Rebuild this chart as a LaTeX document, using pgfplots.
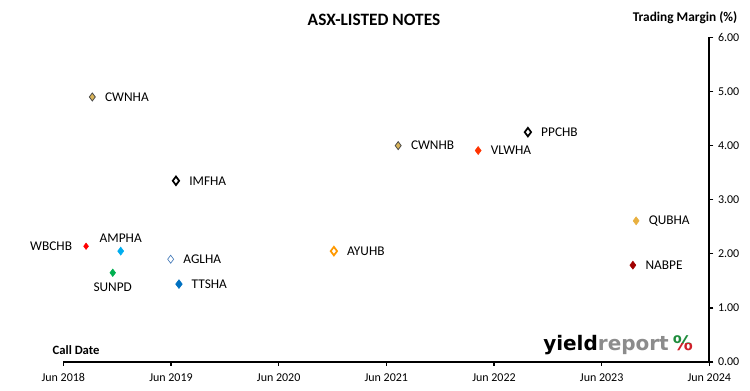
\documentclass[border=0pt]{standalone}
\usepackage{pgfplots}
\pgfplotsset{compat=1.18}
\usepackage{fontspec}
\setmainfont{Carlito}
\newfontfamily\logofont{DejaVu Sans}
\definecolor{tan1}{HTML}{D9B45A}
\definecolor{steel}{HTML}{4A7EBB}
\definecolor{tgreen}{HTML}{00B050}
\definecolor{tblue}{HTML}{0070C0}
\definecolor{aorange}{HTML}{FF9900}
\definecolor{vred}{HTML}{FF3300}
\definecolor{qgold}{HTML}{E8B040}
\definecolor{nred}{HTML}{A00000}
\definecolor{logogray}{HTML}{8C8C8C}
\definecolor{logogreen}{HTML}{1E8C3C}
\definecolor{logored}{HTML}{D0202A}
\begin{document}
\begin{tikzpicture}[x=0.75pt,y=0.75pt]
\useasboundingbox (0,0) rectangle (750,391);
\begin{axis}[
  scale only axis,
  width=484.5pt, height=243.4pt,
  at={(47.5pt,21.75pt)}, anchor=south west,
  xmin=0, xmax=6, ymin=0, ymax=6,
  axis x line=bottom, axis y line=right,
  axis line style={line width=1.5pt, -},
  xtick={0,1,2,3,4,5,6},
  xticklabels={Jun 2018,Jun 2019,Jun 2020,Jun 2021,Jun 2022,Jun 2023,Jun 2024},
  ytick={0,1,2,3,4,5,6},
  yticklabel style={/pgf/number format/fixed, /pgf/number format/fixed zerofill, /pgf/number format/precision=2, /pgf/number format/assume math mode=true},
  tick style={black, line width=1pt},
  major tick length=3pt,
  tick align=outside,
  ticklabel style={font=\fontsize{9}{10}\selectfont},
  xticklabel style={yshift=-2pt},
  clip=false,
  nodes near coords style={font=\fontsize{10}{12}\selectfont, black},
]
\addplot[only marks, mark=diamond*, mark size=3pt, mark options={fill=tan1, draw=black!70, line width=0.6pt},
  nodes near coords={CWNHA}, nodes near coords align={right}, nodes near coords style={xshift=6pt}]
  coordinates {(0.269,4.90)};
\addplot[only marks, mark=diamond*, mark size=3.2pt, mark options={fill=white, draw=black, line width=1.3pt},
  nodes near coords={IMFHA}, nodes near coords align={right}, nodes near coords style={xshift=6pt}]
  coordinates {(1.046,3.35)};
\addplot[only marks, mark=diamond*, mark size=2.4pt, mark options={fill=red, draw=red},
  nodes near coords={WBCHB}, nodes near coords align={left}, nodes near coords style={xshift=-7pt}]
  coordinates {(0.211,2.14)};
\addplot[only marks, mark=diamond*, mark size=3pt, mark options={fill=cyan, draw=cyan},
  nodes near coords={AMPHA}, nodes near coords align={above}, nodes near coords style={yshift=3pt}]
  coordinates {(0.533,2.05)};
\addplot[only marks, mark=diamond*, mark size=2.8pt, mark options={fill=tgreen, draw=tgreen},
  nodes near coords={SUNPD}, nodes near coords align={below}, nodes near coords style={yshift=-4pt}]
  coordinates {(0.459,1.65)};
\addplot[only marks, mark=diamond*, mark size=3pt, mark options={fill=white, draw=steel, line width=0.5pt},
  nodes near coords={AGLHA}, nodes near coords align={right}, nodes near coords style={xshift=6pt}]
  coordinates {(0.997,1.90)};
\addplot[only marks, mark=diamond*, mark size=3.3pt, mark options={fill=tblue, draw=tblue},
  nodes near coords={TTSHA}, nodes near coords align={right}, nodes near coords style={xshift=6pt}]
  coordinates {(1.074,1.44)};
\addplot[only marks, mark=diamond*, mark size=3.2pt, mark options={fill=white, draw=aorange, line width=1.3pt},
  nodes near coords={AYUHB}, nodes near coords align={right}, nodes near coords style={xshift=6pt}]
  coordinates {(2.513,2.05)};
\addplot[only marks, mark=diamond*, mark size=3pt, mark options={fill=tan1, draw=black!70, line width=0.6pt},
  nodes near coords={CWNHB}, nodes near coords align={right}, nodes near coords style={xshift=6pt}]
  coordinates {(3.11,4.00)};
\addplot[only marks, mark=diamond*, mark size=3pt, mark options={fill=vred, draw=vred},
  nodes near coords={VLWHA}, nodes near coords align={right}, nodes near coords style={xshift=6pt}]
  coordinates {(3.853,3.91)};
\addplot[only marks, mark=diamond*, mark size=3.2pt, mark options={fill=white, draw=black, line width=1.3pt},
  nodes near coords={PPCHB}, nodes near coords align={right}, nodes near coords style={xshift=6pt}]
  coordinates {(4.315,4.25)};
\addplot[only marks, mark=diamond*, mark size=3pt, mark options={fill=qgold, draw=qgold},
  nodes near coords={QUBHA}, nodes near coords align={right}, nodes near coords style={xshift=6pt}]
  coordinates {(5.32,2.61)};
\addplot[only marks, mark=diamond*, mark size=3pt, mark options={fill=nred, draw=nred},
  nodes near coords={NABPE}, nodes near coords align={right}, nodes near coords style={xshift=6pt}]
  coordinates {(5.29,1.79)};
\end{axis}
\node[font=\fontsize{13}{15}\selectfont\bfseries] at (374,371) {ASX-LISTED NOTES};
\node[font=\fontsize{10}{12}\selectfont\bfseries, anchor=east] at (742,373) {Trading Margin (\%)};
\node[font=\fontsize{9.5}{11}\selectfont\bfseries, anchor=west] at (48,41) {Call Date};
\node[font=\logofont\bfseries\fontsize{15}{17}\selectfont, anchor=base west, inner sep=0pt] (logo) at (543,40)
  {\textcolor{black}{yield}\textcolor{logogray}{report}\hspace{3pt}\phantom{\%}};
\begin{scope}
\clip (650,47) rectangle (720,70);
\node[font=\logofont\bfseries\fontsize{15}{17}\selectfont, anchor=base east, inner sep=0pt, text=logogreen] at (logo.base east) {\%};
\end{scope}
\begin{scope}
\clip (650,30) rectangle (720,47);
\node[font=\logofont\bfseries\fontsize{15}{17}\selectfont, anchor=base east, inner sep=0pt, text=logored] at (logo.base east) {\%};
\end{scope}
\end{tikzpicture}
\end{document}
